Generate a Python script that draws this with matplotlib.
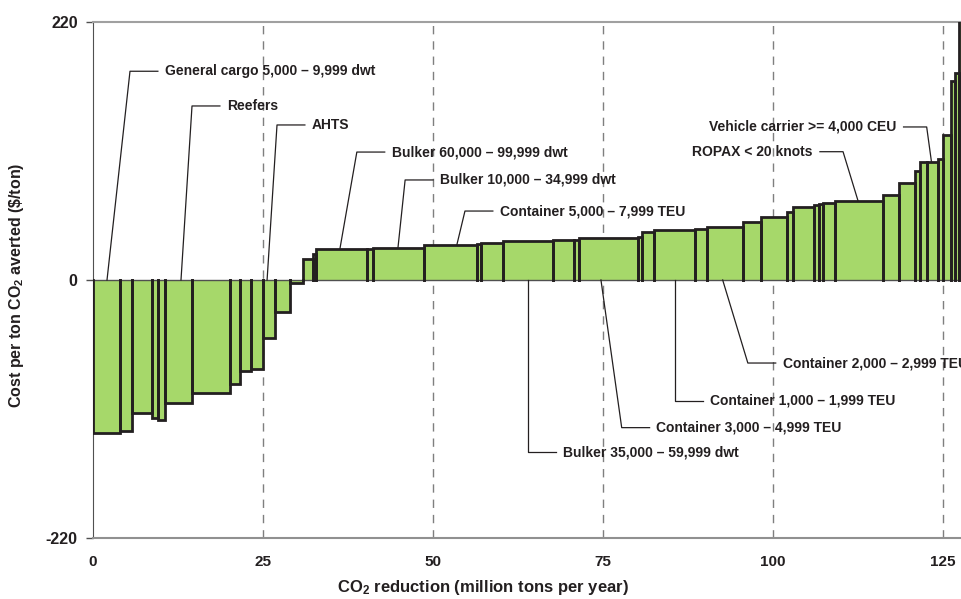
import matplotlib.pyplot as plt
import numpy as np

plt.rcParams['font.family'] = ['Liberation Sans', 'DejaVu Sans']
plt.rcParams['font.weight'] = 'bold'
plt.rcParams['axes.unicode_minus'] = False
plt.rcParams['mathtext.fontset'] = 'custom'
plt.rcParams['mathtext.rm'] = 'Liberation Sans:bold'
plt.rcParams['mathtext.default'] = 'rm'

# CO2 reduction of each segment (million tons per year) and its cost ($/ton)
widths = [3.9, 1.79, 2.94, 0.97, 0.99, 3.92, 5.64, 1.47, 1.62, 1.8, 1.72, 2.21,
          1.96, 1.37, 0.5, 7.45, 0.88, 7.59, 7.71, 0.57, 3.3, 7.4, 3.1, 0.6,
          8.7, 0.7, 1.7, 6.0, 1.75, 5.35, 2.7, 3.7, 1.0, 3.0, 0.8, 0.6,
          1.7, 7.1, 2.3, 2.4, 0.7, 1.0, 1.7, 0.7, 1.2, 0.5, 0.7, 2.6]
costs = [-130.7, -128.8, -113.2, -117.7, -119.4, -104.6, -96.1, -88.7, -77.3,
         -76.2, -49.7, -27.0, -2.8, 17.9, 21.9, 26.2, 26.5, 27.6, 29.8, 30.7,
         31.3, 33.3, 34.1, 34.5, 36.1, 36.4, 41.2, 42.6, 43.5, 44.9, 49.2,
         54.0, 57.7, 62.5, 63.8, 64.6, 65.9, 67.6, 72.5, 83.0, 93.2, 100.9,
         100.9, 102.9, 123.6, 169.7, 176.3, 260.0]

# labelled ship types: text, point on the curve, bend of the leader, text side
labels = ['General cargo 5,000 \u2013 9,999 dwt', 'Reefers', 'AHTS',
          'Bulker 60,000 \u2013 99,999 dwt', 'Bulker 10,000 \u2013 34,999 dwt',
          'Container 5,000 \u2013 7,999 TEU', 'Vehicle carrier >= 4,000 CEU',
          'ROPAX < 20 knots', 'Container 2,000 \u2013 2,999 TEU',
          'Container 1,000 \u2013 1,999 TEU', 'Container 3,000 \u2013 4,999 TEU',
          'Bulker 35,000 \u2013 59,999 dwt']
anchor_x = [2.06, 12.94, 25.6, 36.3, 44.85, 53.5, 123.3, 112.5, 92.6, 85.6, 74.7, 64.0]
anchor_y = [0, 0, 0, 26.2, 27.6, 29.8, 100.9, 67.6, 0, 0, 0, 0]
bend_x = [5.44, 14.56, 27.06, 38.8, 45.9, 54.7, 122.6, 110.3, 96.3, 85.6, 77.75, 64.0]
bend_y = [178, 148.4, 132.2, 109.1, 85.3, 58.8, 130.5, 109.4, -70.8, -102.9, -125.9, -146.7]
sides = ['r', 'r', 'r', 'r', 'r', 'r', 'l', 'l', 'r', 'r', 'r', 'r']

green = '#a6d86a'
dark = '#231f20'

edges = np.concatenate([[0], np.cumsum(widths)])

fig = plt.figure(figsize=(9.62, 5.99), dpi=100)
ax = fig.add_axes([93 / 962, 61 / 599, 884 / 962, 516 / 599])

for x in [25, 50, 75, 100, 125]:
    ax.axvline(x, color='#7f7f7f', lw=1, ls=(0, (6, 5)), zorder=1)

ax.bar(edges[:-1], costs, width=widths, align='edge', color=green, linewidth=0, zorder=2)
for x0, x1, c in zip(edges[:-1], edges[1:], costs):
    ax.plot([x0, x0, x1, x1], [0, c, c, 0], color=dark, lw=2, zorder=3,
            solid_joinstyle='miter')

ax.axhline(0, color='#505050', lw=1, zorder=2.5)

# leader lines and labels
for t, ax_, ay, bx, by, s in zip(labels, anchor_x, anchor_y, bend_x, bend_y, sides):
    if s == 'r':
        ex, tx, ha = bx + 4.1, bx + 5.1, 'left'
    else:
        ex, tx, ha = bx - 3.4, bx - 4.5, 'right'
    ax.plot([ax_, bx, ex], [ay, by, by], color=dark, lw=0.9, zorder=4)
    ax.text(tx, by, t, ha=ha, va='center', fontsize=10, color=dark, zorder=4)

ax.set_xlim(0, 130)
ax.set_ylim(-220, 220)
ax.set_xticks([0, 25, 50, 75, 100, 125])
ax.set_yticks([-220, 0, 220])
ax.tick_params(axis='x', length=0, pad=12, labelsize=11, colors=dark)
ax.tick_params(axis='y', length=5, width=1, pad=6, labelsize=11.5, colors=dark,
               color='#505050')

ax.spines['right'].set_visible(False)
ax.spines['left'].set_color('#505050')
ax.spines['top'].set_color('#a0a0a0')
ax.spines['top'].set_linewidth(1.5)
ax.spines['bottom'].set_color('#909090')
ax.spines['bottom'].set_linewidth(1.5)

ax.set_xlabel('CO$_2$ reduction (million tons per year)', fontsize=12,
              fontweight='bold', color=dark)
ax.xaxis.set_label_coords((483 - 93) / 884, -0.077)
ax.set_ylabel(r'Cost per ton CO$_2$ averted (\$/ton)', fontsize=11.5,
              fontweight='bold', color=dark)
ax.yaxis.set_label_coords(-67 / 884, 0.49)

fig.savefig('out.png', dpi=100)
